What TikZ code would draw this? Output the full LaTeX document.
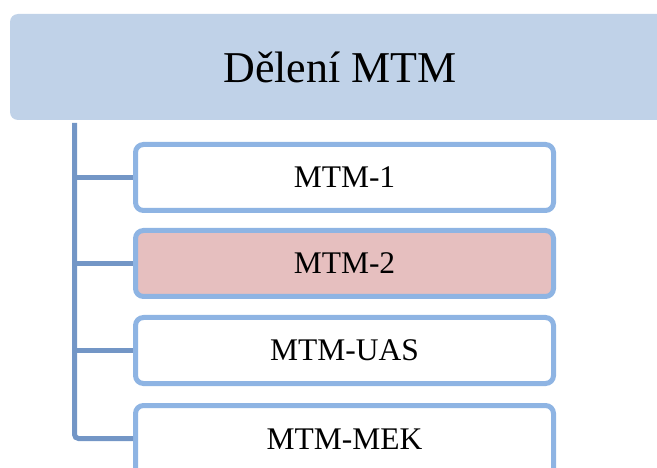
\documentclass[tikz,border=0pt]{standalone}
\usepackage{fontspec}
\setmainfont{Liberation Serif}
\usetikzlibrary{positioning}
\definecolor{headblue}{HTML}{C0D2E8}
\definecolor{boxblue}{HTML}{8EB4E3}
\definecolor{trunkblue}{HTML}{7396C6}
\definecolor{pinkfill}{HTML}{E6BFBF}

\begin{document}
\begin{tikzpicture}[x=1pt, y=-1pt,
  head/.style={fill=headblue, rounded corners=8pt, minimum width=660pt, minimum height=106pt,
    inner sep=0pt, font=\fontsize{44}{48}\selectfont},
  item/.style={draw=boxblue, line width=5pt, fill=white, rounded corners=8pt,
    minimum width=418pt, minimum height=66pt, inner sep=0pt, font=\fontsize{31.5}{34}\selectfont},
  link/.style={draw=trunkblue, line width=5pt, rounded corners=4pt}]
  \useasboundingbox (0,0) rectangle (657,468);
  \clip (0,0) rectangle (657,468);
  % heading
  \node[head] (title) at (340,67) {Dělení MTM};
  % items
  \node[item] (m1) at (344.5,177.5) {MTM-1};
  \node[item, fill=pinkfill] (m2) at (344.5,263.5) {MTM-2};
  \node[item] (m3) at (344.5,350.5) {MTM-UAS};
  \node[item, minimum height=76pt, text depth=9pt, yshift=-5pt] (m4) at (344.5,438.5) {MTM-MEK};
  % connectors
  \coordinate (trunk) at (74.5,123);
  \draw[link] (trunk) |- ([yshift=5pt]m4.west);
  \foreach \b in {m1, m2, m3}
    \draw[link, rounded corners=0pt] (trunk |- \b.west) -- (\b.west);
\end{tikzpicture}
\end{document}
